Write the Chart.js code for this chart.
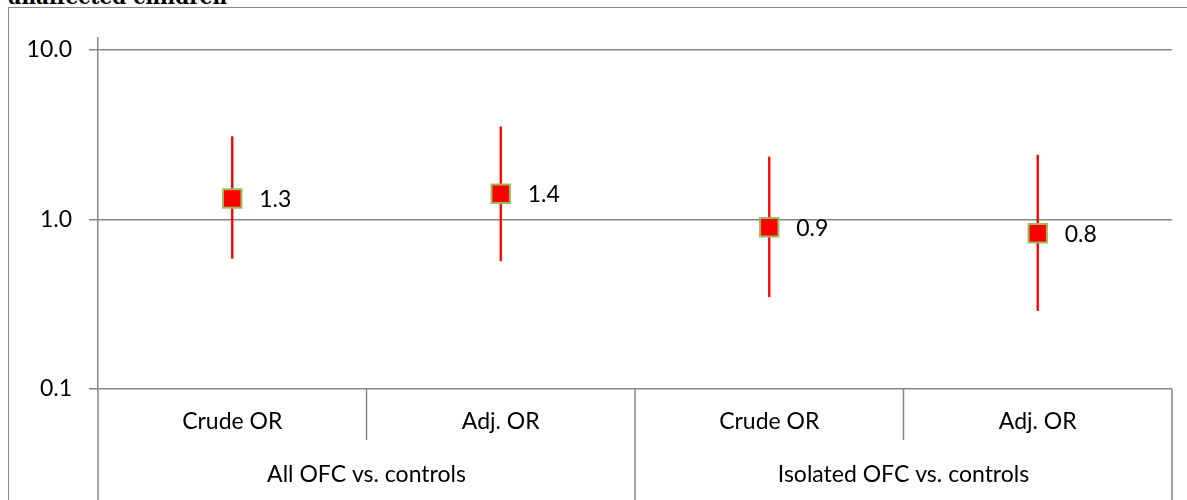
<!DOCTYPE html>
<html>
<head>
<meta charset="utf-8">
<script src="https://cdn.jsdelivr.net/npm/chart.js@4.4.1/dist/chart.umd.min.js"></script>
<style>
  html, body { margin: 0; padding: 0; background: #fff; overflow: hidden; }
  #wrap { position: relative; width: 1187px; height: 500px; overflow: hidden; }
  #title { position: absolute; left: 7px; top: -15px; font: bold 20px "DejaVu Serif", serif; color: #000; white-space: nowrap; }
  #frame { position: absolute; left: 8px; top: 7px; width: 1300px; height: 700px; border-top: 1px solid #8a8a8a; border-left: 1px solid #8a8a8a; }
  canvas { position: absolute; left: 0; top: 0; }
</style>
</head>
<body>
<div id="wrap">
  <div id="title">unaffected children</div>
  <div id="frame"></div>
  <canvas id="myChart" width="1187" height="500"></canvas>
</div>
<script>
// datos
var categories = ['Crude OR', 'Adj. OR', 'Crude OR', 'Adj. OR'];
var groups = ['All OFC vs. controls', 'Isolated OFC vs. controls'];
var oddsRatio = [1.33, 1.42, 0.90, 0.83];
var lowerCI = [0.59, 0.57, 0.35, 0.29];
var upperCI = [3.08, 3.52, 2.34, 2.40];
var yTicks = [0.1, 1, 10];

var FONT = { family: 'Lato', size: 23 };
var GRID = '#868686';

// etiquetas de dos niveles bajo el eje x
var groupAxis = {
  id: 'groupAxis',
  afterDraw: (chart) => {
    var ctx = chart.ctx;
    var xs = chart.scales.x;
    var area = chart.chartArea;
    var half = (xs.getPixelForValue(1) - xs.getPixelForValue(0)) / 2;
    var edges = [];
    for (var i = 0; i <= categories.length; i++) {
      edges.push(i < categories.length ? xs.getPixelForValue(i) - half : xs.getPixelForValue(i - 1) + half);
    }
    ctx.save();
    ctx.strokeStyle = GRID;
    ctx.lineWidth = 1.5;
    edges.forEach((x, i) => {
      ctx.beginPath();
      ctx.moveTo(x, area.bottom);
      ctx.lineTo(x, i % 2 === 0 ? chart.height : area.bottom + 51);
      ctx.stroke();
    });
    ctx.fillStyle = '#000';
    ctx.font = FONT.size + 'px ' + FONT.family;
    ctx.textAlign = 'center';
    ctx.textBaseline = 'middle';
    categories.forEach((c, i) => {
      ctx.fillText(c, xs.getPixelForValue(i), area.bottom + 33);
    });
    groups.forEach((g, i) => {
      ctx.fillText(g, (edges[i * 2] + edges[i * 2 + 2]) / 2, area.bottom + 86);
    });
    ctx.restore();
  }
};

// etiqueta de valor a la derecha de cada punto
var valueLabels = {
  id: 'valueLabels',
  afterDatasetsDraw: (chart) => {
    var ctx = chart.ctx;
    var meta = chart.getDatasetMeta(0);
    ctx.save();
    ctx.fillStyle = '#000';
    ctx.font = FONT.size + 'px ' + FONT.family;
    ctx.textAlign = 'left';
    ctx.textBaseline = 'middle';
    meta.data.forEach((pt, i) => {
      ctx.fillText(oddsRatio[i].toFixed(1), pt.x + 27, pt.y + 1);
    });
    ctx.restore();
  }
};

var ctx = document.getElementById('myChart').getContext('2d');
var chart = new Chart(ctx, {
  type: 'bar',
  data: {
    labels: categories,
    datasets: [{
      type: 'line',
      label: 'OR',
      data: oddsRatio,
      showLine: false,
      pointStyle: 'rect',
      pointRadius: 13,
      pointBackgroundColor: '#FF0000',
      pointBorderColor: '#9BBB59',
      pointBorderWidth: 2,
      order: 0
    }, {
      label: '95% CI',
      data: lowerCI.map((lo, i) => [lo, upperCI[i]]),
      backgroundColor: '#FF0000',
      barThickness: 1.7,
      order: 1
    }]
  },
  options: {
    responsive: false,
    animation: false,
    layout: { padding: { top: 38, right: 12, left: 0, bottom: 0 } },
    plugins: {
      legend: { display: false },
      tooltip: { enabled: false }
    },
    scales: {
      x: {
        type: 'category',
        offset: true,
        ticks: { display: false },
        grid: { display: false },
        border: { display: false },
        afterFit: (s) => { s.height = 111; }
      },
      y: {
        type: 'logarithmic',
        min: 0.1,
        max: 11.77,
        afterBuildTicks: (s) => { s.ticks = yTicks.map(v => ({ value: v })); },
        afterFit: (s) => { s.width = 98; },
        ticks: {
          autoSkip: false,
          padding: 17,
          color: '#000',
          font: FONT,
          callback: (v) => Number(v).toFixed(1)
        },
        grid: { color: GRID, lineWidth: 1.5, tickLength: 9 },
        border: { color: GRID, width: 1.5 }
      }
    }
  },
  plugins: [groupAxis, valueLabels]
});
</script>
</body>
</html>
